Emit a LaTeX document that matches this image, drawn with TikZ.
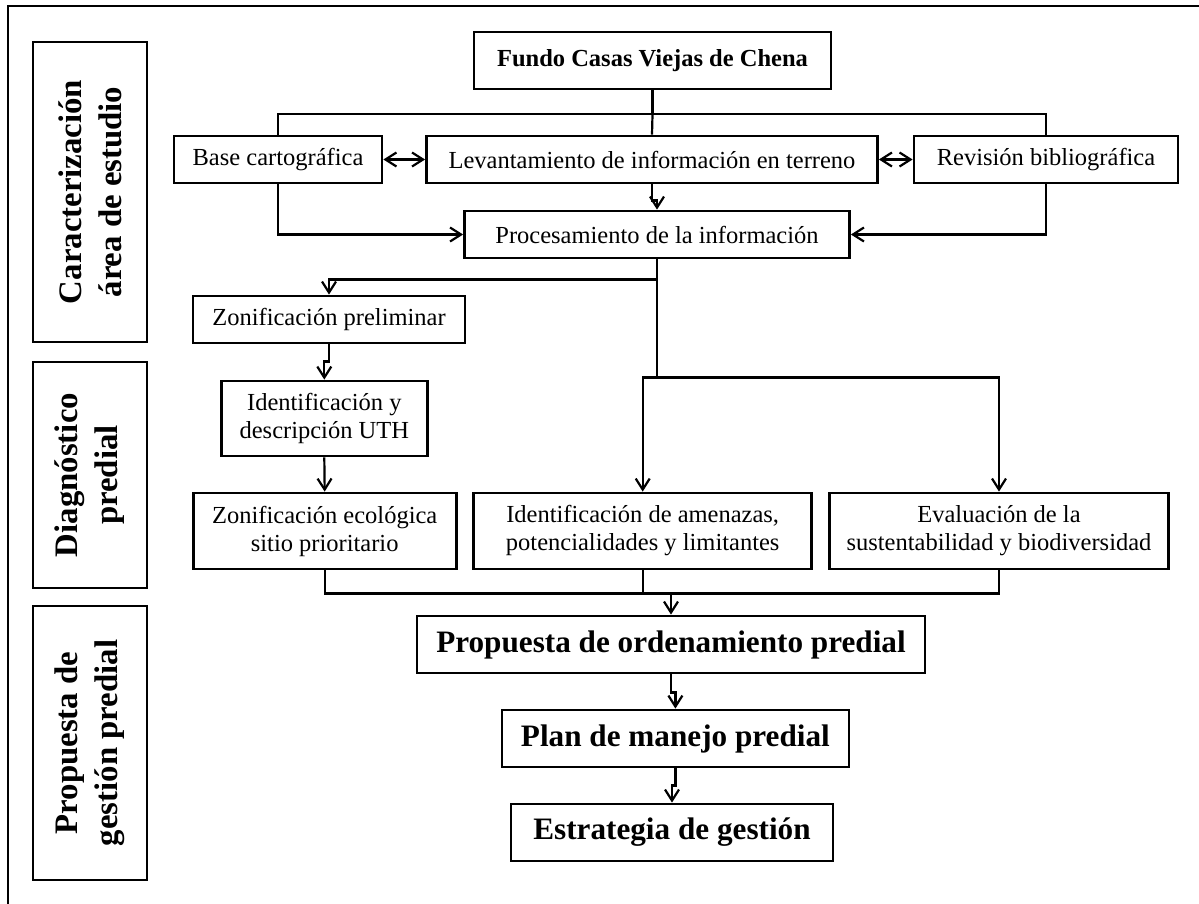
\documentclass[tikz,border=0pt]{standalone}
\usepackage{fontspec}
\setmainfont{Liberation Serif}
\usetikzlibrary{arrows.meta,calc}

\begin{document}
\begin{tikzpicture}[x=0.5pt,y=-0.5pt, %Unidade em pixels
  caixa/.style={draw, line width=1.4pt, inner sep=1pt, align=center, minimum height=23.5pt, font=\fontsize{12.25}{14}\selectfont},
  titulo/.style={caixa, minimum height=28.5pt, font=\fontsize{15.6}{18}\selectfont\bfseries},
  etapa/.style={draw, line width=1.4pt, rotate=90, align=center, minimum height=57pt, font=\fontsize{16.4}{20}\selectfont\bfseries},
  linha/.style={line width=1.1pt},
  seta/.style={linha, -{Straight Barb[length=5.5pt,width=7pt]}},
  seta2/.style={linha, {Straight Barb[length=5.5pt,width=7pt]}-{Straight Barb[length=5.5pt,width=7pt]}}]
	\useasboundingbox (0,0) rectangle (1199,904);
	\draw[line width=1pt] (8,904) -- (8,6) -- (1199,6); %Marco

		%Etapas
	\node[etapa, minimum width=150pt] (et1) at (90,192) {Caracterización\\área de estudio};
	\node[etapa, minimum width=113pt] (et2) at (90,475) {Diagnóstico\\predial};
	\node[etapa, minimum width=137pt] (et3) at (90,743) {Propuesta de\\gestión predial};

		%Caixas
	\node[caixa, minimum width=178.5pt, minimum height=28.5pt, font=\fontsize{12.25}{14}\selectfont\bfseries] (fundo) at (652.5,60.5) {Fundo Casas Viejas de Chena};
	\node[caixa, minimum width=104pt] (base) at (278,159.5) {Base cartográfica};
	\node[caixa, minimum width=225.5pt] (lev) at (652,159.5) {Levantamiento de información en terreno};
	\node[caixa, minimum width=132pt] (rev) at (1046,159.5) {Revisión bibliográfica};
	\node[caixa, minimum width=192.5pt] (proc) at (657,234.5) {Procesamiento de la información};
	\node[caixa, minimum width=136pt] (zonp) at (329,319.5) {Zonificación preliminar};
	\node[caixa, minimum width=103pt, minimum height=37.5pt] (uth) at (324.3,418.5) {Identificación y\\descripción UTH};
	\node[caixa, minimum width=131.5pt, minimum height=38pt] (ze) at (324.7,531) {Zonificación ecológica\\sitio prioritario};
	\node[caixa, minimum width=169pt, minimum height=38pt] (amen) at (642.7,531) {Identificación de amenazas,\\potencialidades y limitantes};
	\node[caixa, minimum width=169.5pt, minimum height=38pt] (eval) at (999,531) {Evaluación de la\\sustentabilidad y biodiversidad};
	\node[titulo, minimum width=254pt] (prop) at (671,644.5) {Propuesta de ordenamiento predial};
	\node[titulo, minimum width=173.5pt] (plan) at (675.4,738.5) {Plan de manejo predial};
	\node[titulo, minimum width=161pt] (estr) at (672,832.5) {Estrategia de gestión};

		%Conexoes
	\coordinate (topo) at ($(fundo.south)+(0,24)$);
	\draw[linha, line width=1.4pt] (fundo.south) -- (topo);
	\draw[linha] (topo) -- (lev.north);
	\draw[linha] (base.north) |- (topo) -| (rev.north);
	\draw[seta2] (base.east) -- (lev.west);
	\draw[seta2] (lev.east) -- (rev.west);
	\draw[seta] (lev.south) -- ++(0,16) -| (proc.north);
	\draw[seta] (base.south) |- (proc.west);
	\draw[seta] (rev.south) |- (proc.east);

	\coordinate (split) at ($(proc.south)+(0,118)$);
	\draw[seta] ($(proc.south)+(0,20)$) -| (zonp.north);
	\draw[seta] (proc.south) -- (split) -| (amen.north);
	\draw[seta] (split) -| (eval.north);
	\draw[seta] (zonp.south) -- ++(0,17) -| (uth.north);
	\draw[seta] (uth.south) -- (ze.north);

	\coordinate (merge) at ($(ze.south)+(0,23)$);
	\draw[linha] (ze.south) -- (merge) -| (eval.south);
	\draw[linha] (amen.south) -- (amen.south |- merge);
	\draw[seta] (prop.north |- merge) -- (prop.north);
	\draw[seta] (prop.south) -- ++(0,18) -| (plan.north);
	\draw[seta] (plan.south) -- ++(0,17) -| (estr.north);
\end{tikzpicture}
\end{document}
